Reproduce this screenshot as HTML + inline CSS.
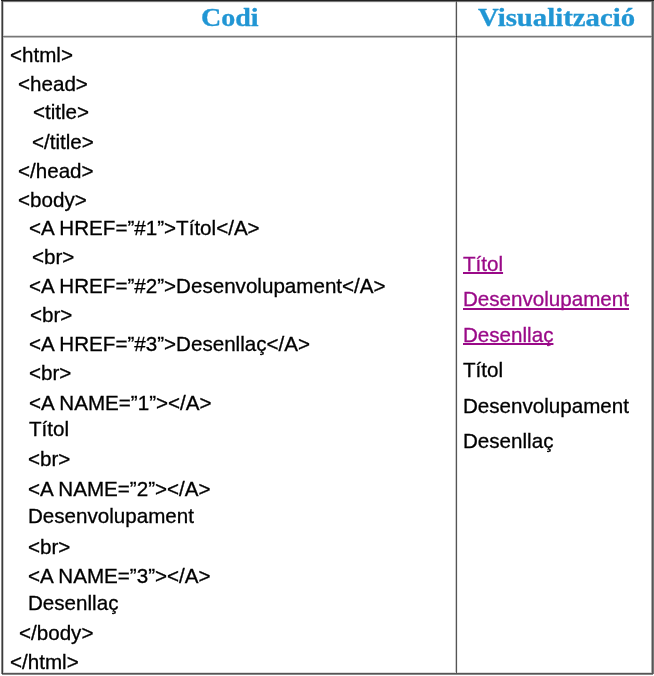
<!DOCTYPE html>
<html><head><meta charset="utf-8">
<style>
html,body{margin:0;padding:0;background:#fff;width:654px;height:676px;overflow:hidden;}
.l{position:absolute;}
.h{position:absolute;top:4px;font-family:"Liberation Serif",serif;font-weight:bold;color:#2196d4;font-size:25px;line-height:28px;transform-origin:0 0;transform:scaleX(1.15);-webkit-text-stroke:0.3px #2196d4;will-change:transform;}
.code{position:absolute;left:0;top:0;font-family:"Liberation Sans",sans-serif;font-size:20.6px;color:#000;-webkit-text-stroke:0.3px #000;will-change:transform;}
.code div{position:absolute;white-space:pre;line-height:20px;}
.vis{position:absolute;font-family:"Liberation Sans",sans-serif;font-size:20.6px;white-space:pre;line-height:20px;-webkit-text-stroke:0.3px currentColor;will-change:transform;}
.lk{color:#9a0a88;text-decoration:underline;text-underline-offset:1px;text-decoration-skip-ink:none;}
</style></head><body>
<div class="l" style="left:3px;top:2px;width:648px;height:1px;background:#eee"></div>
<div class="l" style="left:457px;top:2px;width:1px;height:670px;background:#eee"></div>
<div class="l" style="left:3px;top:672px;width:648px;height:1px;background:#ddd"></div>
<div class="l" style="left:3px;top:35px;width:648px;height:1px;background:#ddd"></div>
<div class="l" style="left:3px;top:2px;width:1px;height:671px;background:#ccc"></div>
<div class="l" style="left:455px;top:2px;width:1px;height:670px;background:#ccc"></div>
<div class="l" style="left:3px;top:37px;width:648px;height:1px;background:#bbb"></div>
<div class="l" style="left:651px;top:1px;width:1px;height:672px;background:#aaa"></div>
<div class="l" style="left:1px;top:1px;width:1px;height:673px;background:#888"></div>
<div class="l" style="left:2px;top:674px;width:651px;height:1px;background:#888"></div>
<div class="l" style="left:2px;top:1px;width:651px;height:1px;background:#777"></div>
<div class="l" style="left:653px;top:0;width:1px;height:674px;background:#777"></div>
<div class="l" style="left:2px;top:36px;width:650px;height:1px;background:#777"></div>
<div class="l" style="left:652px;top:0;width:1px;height:674px;background:#555"></div>
<div class="l" style="left:2px;top:673px;width:651px;height:1px;background:#555"></div>
<div class="l" style="left:456px;top:1px;width:1px;height:672px;background:#555"></div>
<div class="l" style="left:2px;top:1px;width:1px;height:673px;background:#3a3a3a"></div>
<div class="l" style="left:1px;top:0;width:653px;height:1px;background:#222"></div>
<div class="l" style="left:456px;top:36px;width:1px;height:1px;background:#222"></div>
<div class="h" style="left:201px;transform:scaleX(1.12)">Codi</div>
<div class="h" style="left:478px;transform:scaleX(1.15)">Visualització</div>
<div class="code">
<div style="left:10px;top:45px">&lt;html&gt;</div>
<div style="left:18px;top:74px">&lt;head&gt;</div>
<div style="left:33px;top:102px">&lt;title&gt;</div>
<div style="left:32px;top:132px">&lt;/title&gt;</div>
<div style="left:18px;top:161px">&lt;/head&gt;</div>
<div style="left:18px;top:190px">&lt;body&gt;</div>
<div style="left:29px;top:218px">&lt;A HREF=”#1”&gt;Títol&lt;/A&gt;</div>
<div style="left:32px;top:247px">&lt;br&gt;</div>
<div style="left:29px;top:276px">&lt;A HREF=”#2”&gt;Desenvolupament&lt;/A&gt;</div>
<div style="left:30px;top:305px">&lt;br&gt;</div>
<div style="left:29px;top:334px">&lt;A HREF=”#3”&gt;Desenllaç&lt;/A&gt;</div>
<div style="left:29px;top:363px">&lt;br&gt;</div>
<div style="left:29px;top:393px">&lt;A NAME=”1”&gt;&lt;/A&gt;</div>
<div style="left:29px;top:419px">Títol</div>
<div style="left:28px;top:449px">&lt;br&gt;</div>
<div style="left:28px;top:479px">&lt;A NAME=”2”&gt;&lt;/A&gt;</div>
<div style="left:28px;top:506px">Desenvolupament</div>
<div style="left:28px;top:537px">&lt;br&gt;</div>
<div style="left:28px;top:566px">&lt;A NAME=”3”&gt;&lt;/A&gt;</div>
<div style="left:28px;top:593px">Desenllaç</div>
<div style="left:19px;top:623px">&lt;/body&gt;</div>
<div style="left:10px;top:652px">&lt;/html&gt;</div>
</div>
<div class="vis lk" style="left:463px;top:254px">Títol</div>
<div class="vis lk" style="left:463px;top:289px;text-underline-offset:2px">Desenvolupament</div>
<div class="vis lk" style="left:463px;top:325px">Desenllaç</div>
<div class="vis" style="left:463px;top:360px;color:#000">Títol</div>
<div class="vis" style="left:463px;top:396px;color:#000">Desenvolupament</div>
<div class="vis" style="left:463px;top:431px;color:#000">Desenllaç</div>
</body></html>
